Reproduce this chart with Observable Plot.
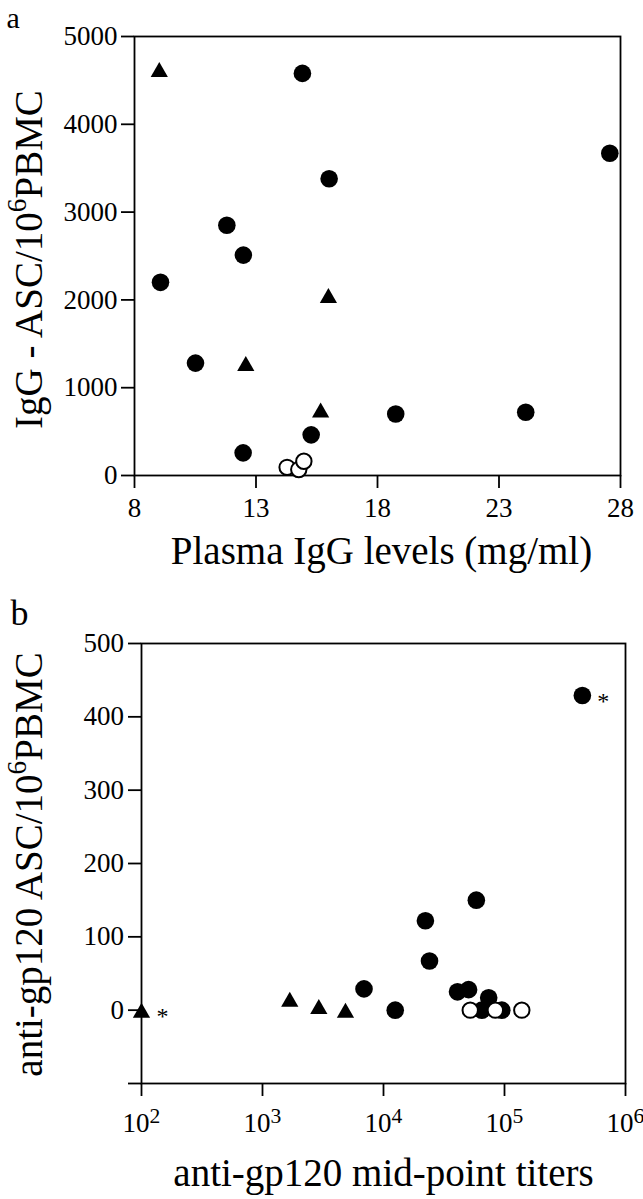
<!DOCTYPE html>
<html>
<head>
<meta charset="utf-8">
<script src="https://cdn.jsdelivr.net/npm/d3@7"></script>
<script src="https://cdn.jsdelivr.net/npm/@observablehq/plot@0.6"></script>
<style>
  html, body { margin: 0; padding: 0; background: #fff; }
  #wrap { position: relative; width: 643px; height: 1199px; background: #fff; overflow: hidden; }
  #wrap > div { position: absolute; left: 0; }
  #pa { top: 0; }
  #pb { top: 585px; }
</style>
</head>
<body>
<div id="wrap"><div id="pa"></div><div id="pb"></div></div>
<script>
// ---------- Panel a data ----------
const aTitleX = "Plasma IgG levels (mg/ml)";
const aTitleY = "IgG - ASC/10^6PBMC";
const aTicksX = [8, 13, 18, 23, 28];
const aTicksY = [0, 1000, 2000, 3000, 4000, 5000];
const aCircleX = [14.91, 27.56, 16.01, 11.8, 12.48, 9.07, 10.51, 18.75, 24.1, 15.27, 12.47];
const aCircleY = [4580, 3670, 3380, 2850, 2510, 2200, 1280, 700, 720, 463, 258];
const aTriX = [9.02, 15.98, 12.58, 15.66];
const aTriY = [4625, 2050, 1275, 745];
const aOpenX = [14.28, 14.76, 14.97];
const aOpenY = [93, 68, 162];

// ---------- Panel b data ----------
const bTitleX = "anti-gp120 mid-point titers";
const bTitleY = "anti-gp120 ASC/10^6PBMC";
const bTicksX = [1e2, 1e3, 1e4, 1e5, 1e6];
const bTicksY = [-100, 0, 100, 200, 300, 400, 500];
const bCircleX = [440000, 6900, 12500, 22200, 24000, 58500, 40900, 50500, 74000, 65000, 95000];
const bCircleY = [429, 29, 0, 122, 67, 150, 25, 28, 17, 0, 0];
const bTriX = [100, 1680, 2920, 4850];
const bTriY = [0, 15, 5, 0];
const bOpenX = [52100, 84000, 139000];
const bOpenY = [0, 0, 0];
const bStarX = [440000, 100];
const bStarY = [429, 0];

const toRows = (xs, ys) => xs.map((x, i) => ({x, y: ys[i]}));

// triangle symbol centred on its bounding box
const triangle = {
  draw(ctx, size) {
    const s = Math.sqrt(size * 4 / Math.sqrt(3));
    const h = s * Math.sqrt(3) / 2;
    ctx.moveTo(0, -h / 2);
    ctx.lineTo(s / 2, h / 2);
    ctx.lineTo(-s / 2, h / 2);
    ctx.closePath();
  }
};

const FONT = "'Liberation Serif', 'Times New Roman', serif";
const TICK_FS = 27;
const TITLE_FS = 39;
const SW = 1.8;

function supify(svg, titles) {
  const ns = "http://www.w3.org/2000/svg";
  svg.querySelectorAll("text").forEach(t => {
    const s = t.textContent;
    const m = s.match(/^(.*)\^(\d)(.*)$/);
    if (!m) return;
    const isTitle = titles.includes(s);
    t.textContent = "";
    const a = document.createElementNS(ns, "tspan");
    a.textContent = m[1];
    t.appendChild(a);
    const b = document.createElementNS(ns, "tspan");
    b.textContent = m[2];
    const fs = isTitle ? 0.7 : 0.8;
    const up = isTitle ? 0.6 : 0.42;
    b.setAttribute("font-size", fs + "em");
    b.setAttribute("dy", (-up) + "em");
    t.appendChild(b);
    if (m[3]) {
      const c = document.createElementNS(ns, "tspan");
      c.textContent = m[3];
      c.setAttribute("dy", (up * fs) + "em");
      t.appendChild(c);
    }
  });
}

// ---------- Panel a ----------
const chartA = Plot.plot({
  width: 643,
  height: 585,
  marginTop: 36,
  marginBottom: 110,
  marginLeft: 134,
  marginRight: 23,
  style: {fontFamily: FONT, fontSize: TICK_FS + "px", background: "#fff", color: "#000", overflow: "visible"},
  x: {domain: [8, 28]},
  y: {domain: [0, 5000]},
  marks: [
    Plot.frame({stroke: "#000", strokeWidth: SW}),
    Plot.axisX({ticks: aTicksX, tickSize: 13, tickPadding: 9, fontSize: TICK_FS, strokeWidth: SW, label: null, tickFormat: d => String(d)}),
    Plot.axisY({ticks: aTicksY, tickSize: 13, tickPadding: 4, fontSize: TICK_FS, strokeWidth: SW, label: null, tickFormat: d => String(d)}),
    Plot.dot(toRows(aCircleX, aCircleY), {x: "x", y: "y", r: 8.8, fill: "#000", stroke: "none"}),
    Plot.dot(toRows(aTriX, aTriY), {x: "x", y: "y", r: 6.4, symbol: triangle, fill: "#000", stroke: "none"}),
    Plot.dot(toRows(aOpenX, aOpenY), {x: "x", y: "y", r: 7.7, fill: "#fff", stroke: "#000", strokeWidth: 2}),
    Plot.text([aTitleX], {frameAnchor: "bottom", text: d => d, dy: 76.5, dx: 4, fontSize: TITLE_FS, textAnchor: "middle", lineAnchor: "middle"}),
    Plot.text([aTitleY], {frameAnchor: "left", text: d => d, dx: -104.5, dy: 3.5, rotate: -90, fontSize: TITLE_FS, textAnchor: "middle", lineAnchor: "middle"}),
    Plot.text(["a"], {frameAnchor: "top-left", text: d => d, dx: -128, dy: -18.6, fontSize: 30, textAnchor: "start", lineAnchor: "middle"})
  ]
});
supify(chartA, [aTitleY]);
document.getElementById("pa").appendChild(chartA);

// ---------- Panel b ----------
const chartB = Plot.plot({
  width: 643,
  height: 614,
  marginTop: 58,
  marginBottom: 116,
  marginLeft: 141,
  marginRight: 18,
  style: {fontFamily: FONT, fontSize: TICK_FS + "px", background: "#fff", color: "#000"},
  x: {type: "log", domain: [1e2, 1e6]},
  y: {domain: [-100, 500]},
  marks: [
    Plot.frame({stroke: "#000", strokeWidth: SW}),
    Plot.axisX({ticks: bTicksX, tickSize: 13, tickPadding: 16, fontSize: TICK_FS, strokeWidth: SW, label: null, tickFormat: d => "10^" + Math.round(Math.log10(d))}),
    Plot.axisY({ticks: bTicksY, tickSize: 13, tickPadding: 4.5, fontSize: TICK_FS, strokeWidth: SW, label: null, tickFormat: d => d < 0 ? "" : String(d)}),
    Plot.dot(toRows(bCircleX, bCircleY), {x: "x", y: "y", r: 8.8, fill: "#000", stroke: "none"}),
    Plot.dot(toRows(bTriX, bTriY), {x: "x", y: "y", r: 6.4, symbol: triangle, fill: "#000", stroke: "none"}),
    Plot.dot(toRows(bOpenX, bOpenY), {x: "x", y: "y", r: 7.7, fill: "#fff", stroke: "#000", strokeWidth: 2}),
    Plot.text(toRows(bStarX, bStarY), {x: "x", y: "y", text: () => "*", dx: 21, dy: 6, fontSize: 24, lineAnchor: "middle"}),
    Plot.text([bTitleX], {frameAnchor: "bottom", text: d => d, dy: 90.5, fontSize: TITLE_FS, textAnchor: "middle", lineAnchor: "middle"}),
    Plot.text([bTitleY], {frameAnchor: "left", text: d => d, dx: -111.5, dy: 1, rotate: -90, fontSize: TITLE_FS, textAnchor: "middle", lineAnchor: "middle"}),
    Plot.text(["b"], {frameAnchor: "top-left", text: d => d, dx: -131, dy: -30, fontSize: 36, textAnchor: "start", lineAnchor: "middle"})
  ]
});
supify(chartB, [bTitleY]);
document.getElementById("pb").appendChild(chartB);
</script>
</body>
</html>
